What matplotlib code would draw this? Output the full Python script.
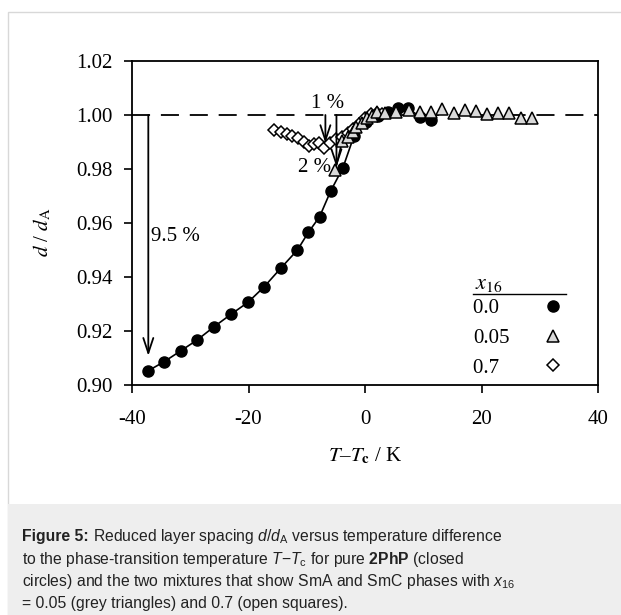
import matplotlib
matplotlib.use("Agg")
import matplotlib.pyplot as plt
from matplotlib.patches import Rectangle

# -------------------------------------------------------------------------
# Data
# -------------------------------------------------------------------------
# x16 = 0.0 (pure 2PhP), closed circles
t_00 = [-37.2, -34.5, -31.6, -28.8, -25.9, -23.0, -20.1, -17.3, -14.4, -11.6,
        -9.7, -7.8, -5.9, -3.8, -1.9, 0.2, 2.2, 4.0, 5.6, 7.4, 9.5, 11.3]
d_00 = [0.9053, 0.9086, 0.9127, 0.9167, 0.9216, 0.9262, 0.9306, 0.9364, 0.9434, 0.9500,
        0.9566, 0.9623, 0.9718, 0.9804, 0.9922, 0.9975, 0.9995, 1.0010, 1.0025, 1.0025,
        0.9992, 0.9980]

# x16 = 0.05, grey triangles
t_005 = [-5.1, -3.9, -3.0, -2.1, -1.5, -0.5, 0.3, 1.2, 2.1, 3.4, 5.4, 7.5, 9.4,
         11.3, 13.2, 15.2, 17.1, 19.1, 20.9, 22.8, 24.7, 26.7, 28.6]
d_005 = [0.9796, 0.9905, 0.9920, 0.9936, 0.9955, 0.9972, 0.9990, 0.9998, 1.0010, 1.0006,
         1.0012, 1.0019, 1.0012, 1.0012, 1.0022, 1.0006, 1.0019, 1.0016, 1.0004, 1.0006,
         1.0009, 0.9988, 0.9988]
n_line_005 = 8  # triangles joined by a line through the transition

# x16 = 0.7, open diamonds
t_07 = [-15.6, -14.4, -13.4, -12.5, -11.5, -10.5, -9.6, -8.7, -7.9, -7.0,
        -6.0, -5.0, -4.0, -3.0, -2.0, -1.0, 0.0, 1.0, 2.0, 3.0]
d_07 = [0.9944, 0.9936, 0.9928, 0.9922, 0.9914, 0.9900, 0.9884, 0.9892, 0.9896, 0.9876,
        0.9898, 0.9910, 0.9920, 0.9932, 0.9950, 0.9968, 0.9990, 1.0004, 1.0006, 1.0004]

legend_title = r"$x_{16}$"
legend_labels = ["0.0", "0.05", "0.7"]

# step annotations: (T, tip of arrow, label)
steps_T = [-37.2, -6.8, -4.9]
steps_tip = [0.9108, 0.9896, 0.9807]
steps_txt = ["9.5 %", "1 %", "2 %"]

caption_head = "Figure 5:"
caption_lines = [
    r"Reduced layer spacing $d/d_\mathrm{A}$ versus temperature difference",
    r"to the phase-transition temperature $T\mathrm{-}T_\mathrm{c}$ for pure $\mathbf{2PhP}$ (closed",
    r"circles) and the two mixtures that show SmA and SmC phases with $x_{16}$",
    r"= 0.05 (grey triangles) and 0.7 (open squares).",
]

# -------------------------------------------------------------------------
# Style
# -------------------------------------------------------------------------
plt.rcParams['font.family'] = ['Liberation Serif', 'DejaVu Serif']
plt.rcParams['mathtext.fontset'] = 'custom'
plt.rcParams['mathtext.rm'] = 'Liberation Sans'
plt.rcParams['mathtext.it'] = 'Liberation Sans:italic'
plt.rcParams['mathtext.bf'] = 'Liberation Sans:bold'

W, H = 621, 615
fig = plt.figure(figsize=(W / 100, H / 100), dpi=100)

# frame round the picture and the grey caption box
fig.patches.append(Rectangle((8 / W, 0), 1.0, 1 - 12 / H, transform=fig.transFigure,
                             facecolor='white', edgecolor='#d8d8d8', lw=1.0, zorder=-3))
fig.patches.append(Rectangle((8 / W, 0), 1.0, (H - 504) / H, transform=fig.transFigure,
                             facecolor='#eeeeee', edgecolor='none', zorder=-2))

ax = fig.add_axes([132 / W, 1 - 385 / H, (598 - 132) / W, (385 - 61) / H])
ax.set_facecolor('none')

# -------------------------------------------------------------------------
# Plot
# -------------------------------------------------------------------------
ax.axhline(1.0, color='black', lw=1.3, dashes=(10, 6), zorder=1)

ax.plot(t_00, d_00, color='black', lw=1.2, zorder=3)
ax.plot(t_00, d_00, ls='none', marker='o', ms=8, mfc='black', mec='black', zorder=4)

ax.plot(t_005[:n_line_005], d_005[:n_line_005], color='black', lw=1.2, zorder=5)
ax.plot(t_005, d_005, ls='none', marker='^', ms=9, mfc='#d9d9d9', mec='black', mew=1.1, zorder=6)

ax.plot(t_07, d_07, ls='none', marker='D', ms=6.5, mfc='white', mec='black', mew=1.1, zorder=5)

for t, tip in zip(steps_T, steps_tip):
    ax.annotate('', xy=(t, tip), xytext=(t, 1.0),
                arrowprops=dict(arrowstyle='->,head_length=0.9,head_width=0.3', mutation_scale=12,
                                lw=1.3, color='black', shrinkA=0, shrinkB=0), zorder=7)

ax.text(steps_T[0] + 0.4, 0.9550, steps_txt[0], fontsize=15, ha='left', va='center')
ax.text(steps_T[1] + 0.3, 1.0007, steps_txt[1], fontsize=15, ha='center', va='bottom')
ax.text(steps_T[2] - 0.9, 0.9805, steps_txt[2], fontsize=15, ha='right', va='center')

ax.set_xlim(-40, 40)
ax.set_ylim(0.90, 1.02)
ax.set_xticks([-40, -20, 0, 20, 40])
ax.set_xticklabels(['-40', '-20', '0', '20', '40'])
ax.set_yticks([0.90, 0.92, 0.94, 0.96, 0.98, 1.00, 1.02])
ax.set_yticklabels(['%.2f' % v for v in ax.get_yticks()])
ax.tick_params(axis='both', direction='out', length=6, width=1.2, labelsize=15, pad=8)
ax.tick_params(axis='x', pad=12)
for s in ax.spines.values():
    s.set_linewidth(1.3)

ax.set_xlabel(r"$T$–$T_\mathbf{c}$ / K", fontsize=15, math_fontfamily='stix', labelpad=12)
ax.set_ylabel(r"$d$ / $d_\mathrm{A}$", fontsize=15, math_fontfamily='stix')
ax.yaxis.set_label_coords(-0.168, 0.47)

# legend: labels on the left, symbols on the right, title underlined
handles = [
    plt.Line2D([], [], ls='none', marker='o', ms=8, mfc='black', mec='black'),
    plt.Line2D([], [], ls='none', marker='^', ms=9, mfc='#d9d9d9', mec='black', mew=1.1),
    plt.Line2D([], [], ls='none', marker='D', ms=6.5, mfc='white', mec='black', mew=1.1),
]
width = max(len(s) for s in legend_labels)
padded = [s + '\u2007' * (width - len(s)) for s in legend_labels]  # figure space keeps text left-aligned
ax.legend(handles, padded, loc='center left', bbox_to_anchor=(0.732, 0.145), frameon=False,
          markerfirst=False, fontsize=15, handlelength=1.0, handletextpad=1.6,
          labelspacing=0.49, borderpad=0.0, borderaxespad=0.0)
ax.text(0.736, 0.309, legend_title, transform=ax.transAxes, fontsize=16, ha='left', va='center',
        math_fontfamily='stix')
ax.plot([0.732, 0.931], [0.281, 0.281], color='black', lw=1.0, transform=ax.transAxes, clip_on=False)

# -------------------------------------------------------------------------
# Caption
# -------------------------------------------------------------------------
cap_kw = dict(fontsize=11.3, va='center', ha='left', family='Liberation Sans', color='#222222')
head = fig.text(22 / W, 1 - 537 / H, caption_head, weight='bold', **cap_kw)
head_end = head.get_window_extent(fig.canvas.get_renderer()).x1
for i, line in enumerate(caption_lines):
    x0 = (head_end + 4) / W if i == 0 else 22 / W
    fig.text(x0, 1 - (537 + 22.3 * i) / H, line, **cap_kw)

fig.savefig('out.png', dpi=100)
